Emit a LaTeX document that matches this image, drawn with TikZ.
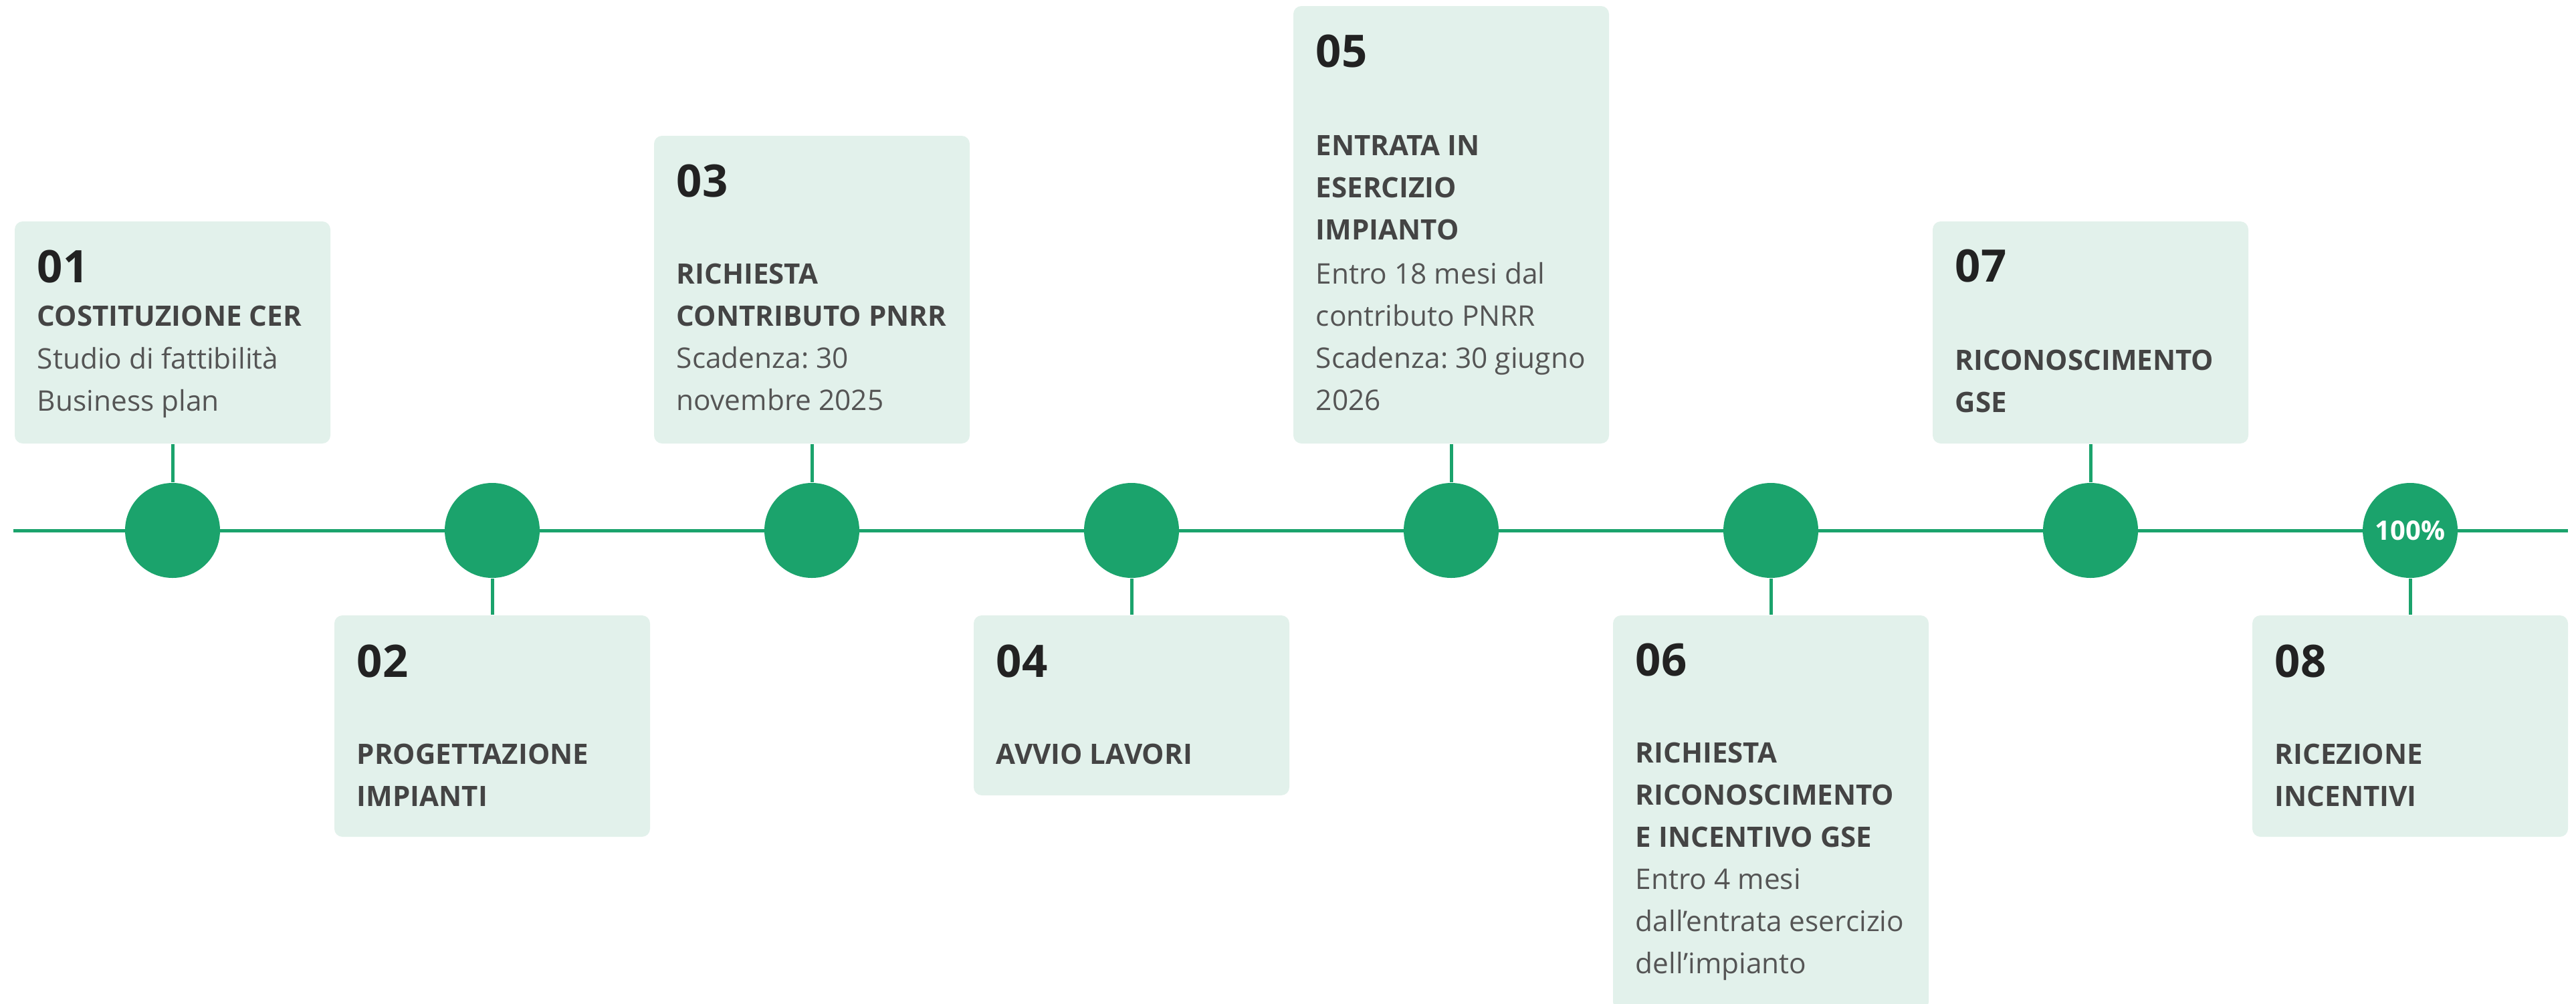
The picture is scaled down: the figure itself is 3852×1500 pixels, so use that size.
\documentclass[tikz,border=0pt]{standalone}
\usepackage{fontspec}
\setmainfont{Open Sans}
\frenchspacing
\definecolor{grn}{RGB}{27,163,108}
\definecolor{boxc}{RGB}{226,241,235}
\definecolor{numc}{RGB}{34,34,34}
\definecolor{ttlc}{RGB}{68,68,68}
\definecolor{bodyc}{RGB}{85,85,85}
\tikzset{
 box/.style={rectangle, rounded corners=3pt, fill=boxc, draw=none, minimum width=118pt, inner sep=0pt},
 dot/.style={circle, fill=grn, minimum size=35.5pt, inner sep=0pt},
 stub/.style={draw=grn, line width=1.25pt},
 tl/.style={draw=grn, line width=1.25pt},
 num/.style={anchor=base west, inner sep=0pt, text=numc, font=\fontsize{16.75pt}{20pt}\selectfont\bfseries},
 ttl/.style={anchor=base west, inner sep=0pt, text=ttlc, font=\fontsize{10.5pt}{13pt}\selectfont\bfseries},
 body/.style={anchor=base west, inner sep=0pt, text=bodyc, font=\fontsize{10.6pt}{13pt}\selectfont},
 pct/.style={text=white, font=\fontsize{10pt}{12pt}\selectfont\bfseries},
}
\begin{document}
\begin{tikzpicture}[x=0.25pt, y=-0.25pt]
\useasboundingbox (0,0) rectangle (3852,1500);
% timeline
\coordinate (L) at (20,793);
\coordinate (R) at (3840,793);
\draw[tl] (L) -- (R);
% boxes
\node[box, minimum height=83pt]    (b1) at (258,497) {};
\node[box, minimum height=82.75pt] (b2) at (736,1085.5) {};
\node[box, minimum height=115pt]   (b3) at (1214,433) {};
\node[box, minimum height=67.25pt] (b4) at (1692,1054.5) {};
\node[box, minimum height=163.5pt] (b5) at (2170,336) {};
\node[box, minimum height=147.5pt] (b6) at (2648,1215) {};
\node[box, minimum height=83pt]    (b7) at (3126,497) {};
\node[box, minimum height=82.75pt] (b8) at (3604,1085.5) {};
% dots
\node[dot] (c1) at (258,793) {};
\node[dot] (c2) at (736,793) {};
\node[dot] (c3) at (1214,793) {};
\node[dot] (c4) at (1692,793) {};
\node[dot] (c5) at (2170,793) {};
\node[dot] (c6) at (2648,793) {};
\node[dot] (c7) at (3126,793) {};
\node[dot, pct] (c8) at (3604,793) {100\%};
% stubs
\draw[stub] (b1.south) -- (c1.north);
\draw[stub] (c2.south) -- (b2.north);
\draw[stub] (b3.south) -- (c3.north);
\draw[stub] (c4.south) -- (b4.north);
\draw[stub] (b5.south) -- (c5.north);
\draw[stub] (c6.south) -- (b6.north);
\draw[stub] (b7.south) -- (c7.north);
\draw[stub] (c8.south) -- (b8.north);
% texts 01
\node[num]  (n1)  at (55,422) {01};
\node[ttl]  (t1a) at (55,487) {COSTITUZIONE CER};
\node[body] (d1a) at (55,551) {Studio di fattibilità};
\node[body] (d1b) at (55,614) {Business plan};
% 02
\node[num]  (n2)  at (533,1012) {02};
\node[ttl]  (t2a) at (533,1142) {PROGETTAZIONE};
\node[ttl]  (t2b) at (533,1205) {IMPIANTI};
% 03
\node[num]  (n3)  at (1011,294) {03};
\node[ttl]  (t3a) at (1011,424) {RICHIESTA};
\node[ttl]  (t3b) at (1011,487) {CONTRIBUTO PNRR};
\node[body] (d3a) at (1011,550) {Scadenza: 30};
\node[body] (d3b) at (1011,613) {novembre 2025};
% 04
\node[num]  (n4)  at (1489,1012) {04};
\node[ttl]  (t4a) at (1489,1142) {AVVIO LAVORI};
% 05
\node[num]  (n5)  at (1967,100) {05};
\node[ttl]  (t5a) at (1967,232) {ENTRATA IN};
\node[ttl]  (t5b) at (1967,295) {ESERCIZIO};
\node[ttl]  (t5c) at (1967,358) {IMPIANTO};
\node[body] (d5a) at (1967,424) {Entro 18 mesi dal};
\node[body] (d5b) at (1967,487) {contributo PNRR};
\node[body] (d5c) at (1967,550) {Scadenza: 30 giugno};
\node[body] (d5d) at (1967,613) {2026};
% 06
\node[num]  (n6)  at (2445,1010) {06};
\node[ttl]  (t6a) at (2445,1140) {RICHIESTA};
\node[ttl]  (t6b) at (2445,1203) {RICONOSCIMENTO};
\node[ttl]  (t6c) at (2445,1266) {E INCENTIVO GSE};
\node[body] (d6a) at (2445,1329) {Entro 4 mesi};
\node[body] (d6b) at (2445,1392) {dall’entrata esercizio};
\node[body] (d6c) at (2445,1455) {dell’impianto};
% 07
\node[num]  (n7)  at (2923,421) {07};
\node[ttl]  (t7a) at (2923,553) {RICONOSCIMENTO};
\node[ttl]  (t7b) at (2923,616) {GSE};
% 08
\node[num]  (n8)  at (3401,1012) {08};
\node[ttl]  (t8a) at (3401,1142) {RICEZIONE};
\node[ttl]  (t8b) at (3401,1205) {INCENTIVI};
\end{tikzpicture}
\end{document}
